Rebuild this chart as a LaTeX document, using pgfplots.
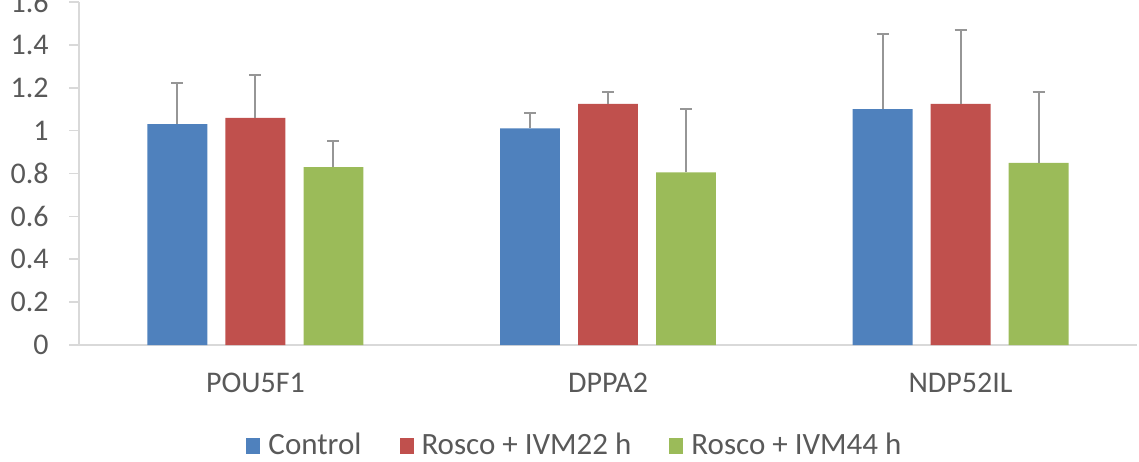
\documentclass[border=0pt]{standalone}
\usepackage{pgfplots}
\pgfplotsset{compat=1.18}
\usepackage{pgfplotstable}
\usepackage{fontspec}
\setmainfont{Carlito}
\usetikzlibrary{calc}
\definecolor{cblue}{RGB}{79,129,189}
\definecolor{cred}{RGB}{192,80,77}
\definecolor{cgreen}{RGB}{155,187,89}
\definecolor{textgray}{RGB}{89,89,89}
\definecolor{axisgray}{RGB}{217,217,217}
\definecolor{errgray}{RGB}{150,150,150}
\pgfplotstableread{
x c ce r re g ge
0 1.03 0.19 1.06 0.20 0.83 0.12
1 1.01 0.07 1.125 0.055 0.805 0.295
2 1.10 0.35 1.125 0.345 0.85 0.33
}\data
\begin{document}
\begin{tikzpicture}
\begin{axis}[name=ax, scale only axis, width=528.8pt, height=171.5pt,
  ybar=9.03pt, bar width=29.97pt,
  xmin=-0.5, xmax=2.5, ymin=0, ymax=1.6,
  xtick={0,1,2}, xticklabels={POU5F1,DPPA2,NDP52IL},
  ytick={0,0.2,0.4,0.6,0.8,1,1.2,1.4,1.6},
  axis x line*=bottom, axis y line*=left,
  axis line style={draw=axisgray, line width=0.8pt, -},
  tick align=outside,
  major tick length=5pt,
  y tick style={draw=axisgray, line width=0.8pt},
  x tick style={draw=none},
  /pgf/number format/assume math mode=true,
  tick label style={font=\fontsize{15}{17}\selectfont, text=textgray},
  yticklabel style={xshift=-6.8pt},
  xticklabel style={yshift=-5.3pt},
  legend style={at={(0.4697,-0.2936)}, anchor=center, draw=none, fill=none,
    legend columns=3, font=\fontsize{15.5}{17}\selectfont, text=textgray,
    /tikz/every even column/.append style={column sep=17pt},
    legend cell align=left},
  legend image code/.code={\fill[#1] (0pt,-3.9pt) rectangle (7pt,3.9pt); \path (9pt,0pt);},
  error bars/error bar style={line width=1pt, draw=errgray},
  error bars/error mark options={rotate=90, line width=1pt, mark size=3pt, draw=errgray},
]
\addplot[fill=cblue, draw=none,
  error bars/.cd, y dir=plus, y explicit] table[x=x, y=c, y error=ce] {\data};
\addlegendentry{Control}
\addplot[fill=cred, draw=none,
  error bars/.cd, y dir=plus, y explicit] table[x=x, y=r, y error=re] {\data};
\addlegendentry{Rosco + IVM22 h}
\addplot[fill=cgreen, draw=none,
  error bars/.cd, y dir=plus, y explicit] table[x=x, y=g, y error=ge] {\data};
\addlegendentry{Rosco + IVM44 h}
\end{axis}
\pgfresetboundingbox
\path[use as bounding box] ($(ax.south west)+(-39.6pt,-58pt)$) rectangle ($(ax.north east)+(1.1pt,1pt)$);
\end{tikzpicture}
\end{document}
